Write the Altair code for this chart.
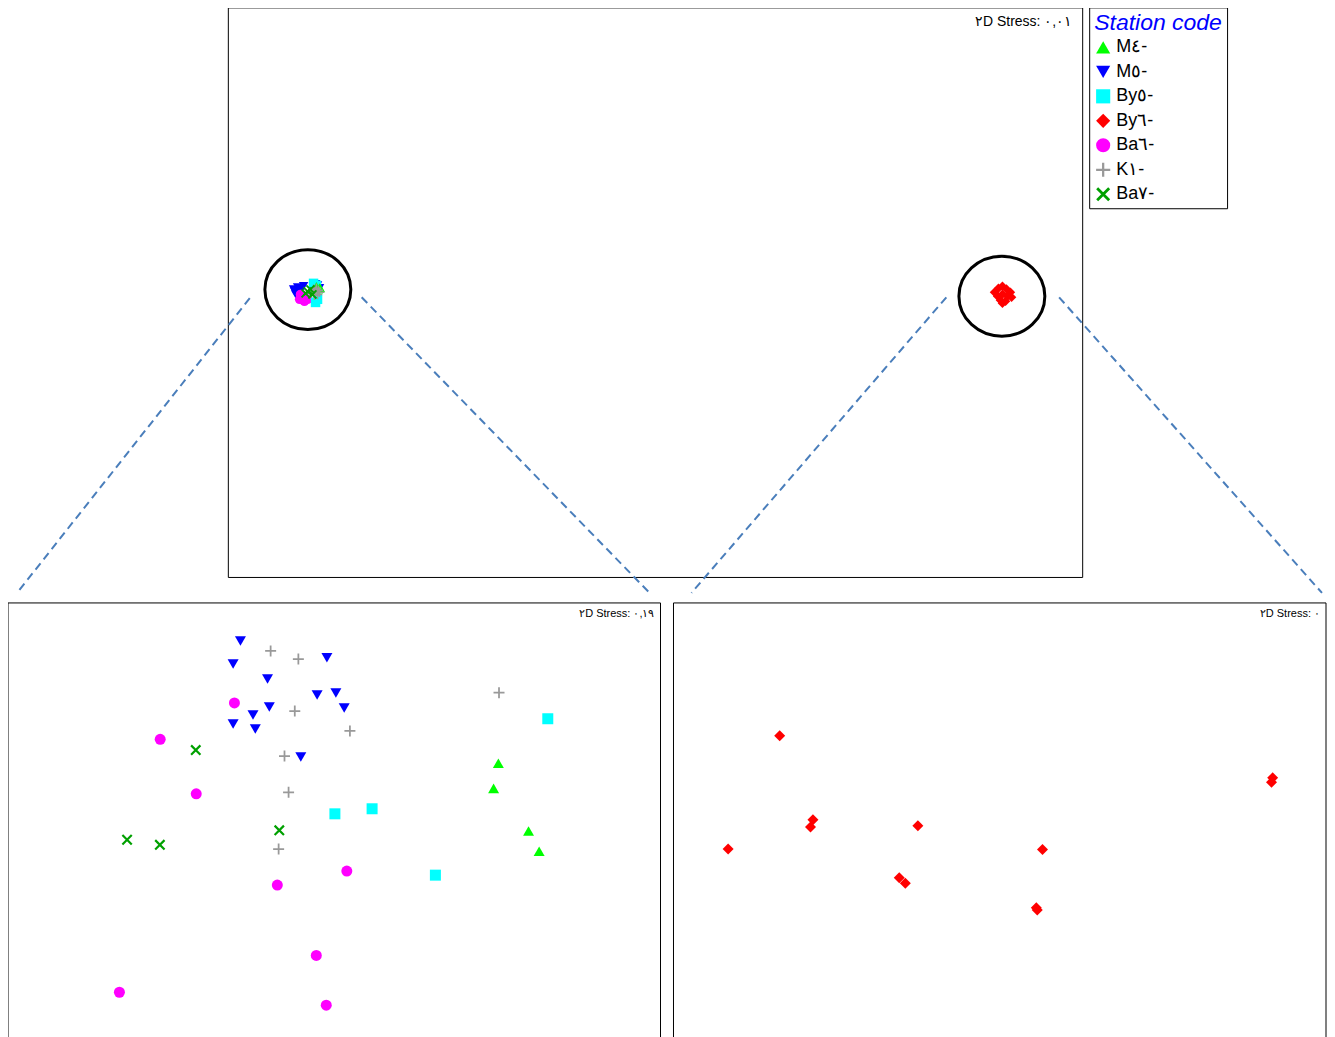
import altair as alt
import pandas as pd

# ---------------- categories / styles ----------------
stations = ["M٤-", "M٥-", "By٥-", "By٦-", "Ba٦-", "K١-", "Ba٧-"]
colors = ["#00FF00", "#0000FF", "#00FFFF", "#FF0000", "#FF00FF", "#999999", "#00A000"]
PLUS = "M-1,-0.16H-0.16V-1H0.16V-0.16H1V0.16H0.16V1H-0.16V0.16H-1Z"
XSHAPE = ("M-0.71,-0.99L0.99,0.71L0.71,0.99L-0.99,-0.71Z "
          "M-0.99,0.71L0.71,-0.99L0.99,-0.71L-0.71,0.99Z")
shapes = ["triangle-up", "triangle-down", "square", "diamond", "circle", PLUS, XSHAPE]

stress_top = "٢D Stress: ٠,٠١"
stress_left = "٢D Stress: ٠,١٩"
stress_right = "٢D Stress: ٠"

# ---------------- top panel: all samples ----------------
top_m5_x = [-1.269, -1.262, -1.255, -1.248, -1.241, -1.252, -1.185, -1.178, -1.234, -1.266, -1.192, -1.245]
top_m5_y = [0.017, -0.001, 0.024, 0.007, 0.021, -0.008, 0.031, 0.021, 0.028, 0.010, 0.035, -0.011]
top_ba6_x = [-1.241, -1.234, -1.248, -1.227, -1.238, -1.231, -1.245, -1.220]
top_ba6_y = [-0.011, -0.022, -0.018, -0.015, -0.004, -0.025, -0.001, -0.018]
top_by5_x = [-1.199, -1.189, -1.185, -1.192]
top_by5_y = [0.038, 0.031, -0.018, -0.029]
top_m4_x = [-1.189, -1.178, -1.182, -1.175]
top_m4_y = [0.028, 0.024, 0.017, 0.021]
top_k1_x = [-1.192, -1.185, -1.199, -1.178, -1.206, -1.189, -1.196, -1.182]
top_k1_y = [0.010, -0.001, 0.017, 0.007, 0.003, 0.021, -0.004, 0.014]
top_ba7_x = [-1.220, -1.210, -1.227, -1.203]
top_ba7_y = [0.010, 0.017, 0.003, -0.001]
top_by6_x = [1.192, 1.206, 1.220, 1.234, 1.248, 1.203, 1.220, 1.238, 1.213, 1.231, 1.220, 1.252]
top_by6_y = [0.007, 0.021, 0.028, 0.018, 0.007, -0.007, 0.000, -0.007, -0.021, -0.025, -0.032, -0.011]

# highlight ellipses and connectors (top panel units)
ell_x = [-1.219, 1.218]
ell_y = [0.016, -0.007]
conn_x = [-1.423, -1.030, 1.023, 1.419]
conn_y = [-0.014, -0.011, -0.011, -0.011]
conn_x2 = [-2.240, -0.019, 0.128, 2.342]
conn_y2 = [-1.049, -1.049, -1.049, -1.049]

# ---------------- bottom-left panel: without By6 ----------------
m4_x = [1.006, 0.977, 1.191, 1.256]
m4_y = [0.217, 0.063, -0.199, -0.323]
m5_x = [-0.575, -0.620, -0.045, -0.409, -0.105, 0.010, 0.061, -0.398, -0.498, -0.620, -0.484, -0.205]
m5_y = [0.967, 0.826, 0.864, 0.734, 0.636, 0.648, 0.556, 0.562, 0.513, 0.458, 0.427, 0.255]
by5_x = [0.004, 0.232, 1.309, 0.620]
by5_y = [-0.093, -0.062, 0.490, -0.469]
ba6_x = [-0.612, -1.067, -0.846, 0.077, -0.349, -0.110, -1.317, -0.049]
ba6_y = [0.587, 0.364, 0.030, -0.444, -0.530, -0.961, -1.187, -1.266]
k1_x = [-0.390, -0.220, -0.242, 0.096, -0.305, -0.280, -0.341, 1.010]
k1_y = [0.906, 0.856, 0.537, 0.415, 0.261, 0.039, -0.309, 0.650]
ba7_x = [-0.849, -1.270, -1.069, -0.337]
ba7_y = [0.298, -0.252, -0.283, -0.194]

# ---------------- bottom-right panel: By6 only ----------------
by6_x = [-1.349, -1.145, -1.160, -0.502, -1.665, -0.616, -0.579, 1.673, 1.666, 0.262, 0.224, 0.230]
by6_y = [0.386, -0.129, -0.174, -0.166, -0.309, -0.485, -0.518, 0.128, 0.100, -0.311, -0.669, -0.683]


def frame(groups):
    rows = []
    for name, xs, ys in groups:
        for a, b in zip(xs, ys):
            rows.append({"station": name, "x": a, "y": b})
    return pd.DataFrame(rows)


top_df = frame([
    (stations[1], top_m5_x, top_m5_y),
    (stations[4], top_ba6_x, top_ba6_y),
    (stations[2], top_by5_x, top_by5_y),
    (stations[0], top_m4_x, top_m4_y),
    (stations[5], top_k1_x, top_k1_y),
    (stations[6], top_ba7_x, top_ba7_y),
    (stations[3], top_by6_x, top_by6_y),
])
left_df = frame([
    (stations[0], m4_x, m4_y),
    (stations[1], m5_x, m5_y),
    (stations[2], by5_x, by5_y),
    (stations[4], ba6_x, ba6_y),
    (stations[5], k1_x, k1_y),
    (stations[6], ba7_x, ba7_y),
])
right_df = frame([(stations[3], by6_x, by6_y)])
ell_df = pd.DataFrame({"x": ell_x, "y": ell_y})
conn_df = pd.DataFrame({"x": conn_x, "y": conn_y, "x2": conn_x2, "y2": conn_y2})

FONT = "Liberation Sans"

legend = alt.Legend(
    title="Station code", orient="none", legendX=1082, legendY=0,
    strokeColor="black", fillColor="white", padding=5,
    titleFont=FONT, titleFontSize=23, titleFontStyle="italic", titleFontWeight="normal",
    titleColor="#0000FF", titlePadding=3,
    labelFont=FONT, labelFontSize=18, labelColor="black", labelOffset=4,
    symbolSize=200, rowPadding=6.5, symbolOpacity=1, symbolStrokeWidth=0,
)
color_enc = alt.Color("station:N", scale=alt.Scale(domain=stations, range=colors), legend=legend)
shape_enc = alt.Shape("station:N", scale=alt.Scale(domain=stations, range=shapes), legend=legend)

top_xs = alt.Scale(domain=[-1.5, 1.5], nice=False, zero=False)
top_ys = alt.Scale(domain=[-0.993, 1.007], nice=False, zero=False)
bot_xs = alt.Scale(domain=[-2.0, 2.0], nice=False, zero=False)
bot_ys = alt.Scale(domain=[-1.41, 1.2], nice=False, zero=False)


def points(df, xs, ys, size):
    return alt.Chart(df).mark_point(filled=True, opacity=1, size=size, strokeWidth=0).encode(
        x=alt.X("x:Q", scale=xs, axis=None),
        y=alt.Y("y:Q", scale=ys, axis=None),
        color=color_enc,
        shape=shape_enc,
    )


def stress(text, xpix, ypix, size):
    return alt.Chart(pd.DataFrame({"t": [text]})).mark_text(
        align="right", baseline="middle", fontSize=size, font=FONT, color="black"
    ).encode(text="t:N", x=alt.value(xpix), y=alt.value(ypix))


def open_frame(w, h):
    # panel border on top, left and right (the panel runs past the page bottom)
    one = pd.DataFrame({"k": [0]})
    base = alt.Chart(one).mark_rule(color="black", strokeWidth=1)
    top_edge = base.encode(x=alt.value(0), x2=alt.value(w), y=alt.value(0))
    left_edge = base.encode(x=alt.value(0), y=alt.value(0), y2=alt.value(h + 20))
    right_edge = base.encode(x=alt.value(w), y=alt.value(0), y2=alt.value(h + 20))
    return [top_edge, left_edge, right_edge]


TW, TH = 855, 570
BW, BH = 653, 426

ellipse = alt.Chart(ell_df).mark_point(
    shape="M-1,0A1,0.93,0,1,0,1,0A1,0.93,0,1,0,-1,0Z",
    size=7396, filled=False, stroke="black", strokeWidth=3, opacity=1,
).encode(x=alt.X("x:Q", scale=top_xs, axis=None), y=alt.Y("y:Q", scale=top_ys, axis=None))

connectors = alt.Chart(conn_df).mark_rule(
    strokeDash=[8, 5], strokeWidth=2, color="#4A7EBB", clip=False
).encode(
    x=alt.X("x:Q", scale=top_xs, axis=None), y=alt.Y("y:Q", scale=top_ys, axis=None),
    x2="x2:Q", y2="y2:Q",
)

top_chart = alt.layer(
    points(top_df, top_xs, top_ys, 90), ellipse, connectors, stress(stress_top, TW - 10, 15, 14)
).properties(width=TW, height=TH)

# invisible spacer that pushes the top panel to the right
spacer = alt.Chart(pd.DataFrame({"v": [0]})).mark_point(opacity=0, size=1).encode(
    x=alt.value(110), y=alt.value(285)
).properties(width=220, height=TH, view=alt.ViewBackground(strokeOpacity=0))

left_chart = alt.layer(
    points(left_df, bot_xs, bot_ys, 121), stress(stress_left, BW - 6, 11, 11), *open_frame(BW, BH)
).properties(width=BW, height=BH, view=alt.ViewBackground(strokeOpacity=0))

right_chart = alt.layer(
    points(right_df, bot_xs, bot_ys, 121), stress(stress_right, BW - 6, 11, 11), *open_frame(BW, BH)
).properties(width=BW, height=BH, view=alt.ViewBackground(strokeOpacity=0))

top_row = alt.hconcat(spacer, top_chart, spacing=0, bounds="flush")
bottom_row = alt.hconcat(left_chart, right_chart, spacing=13, bounds="flush")

chart = alt.vconcat(top_row, bottom_row, spacing=7).properties(
    padding={"top": -2, "left": -1, "right": 0, "bottom": 0}
).configure(font=FONT).configure_view(stroke="black", strokeWidth=1)

chart.save("out.html", embed_options={"renderer": "svg", "actions": False})
